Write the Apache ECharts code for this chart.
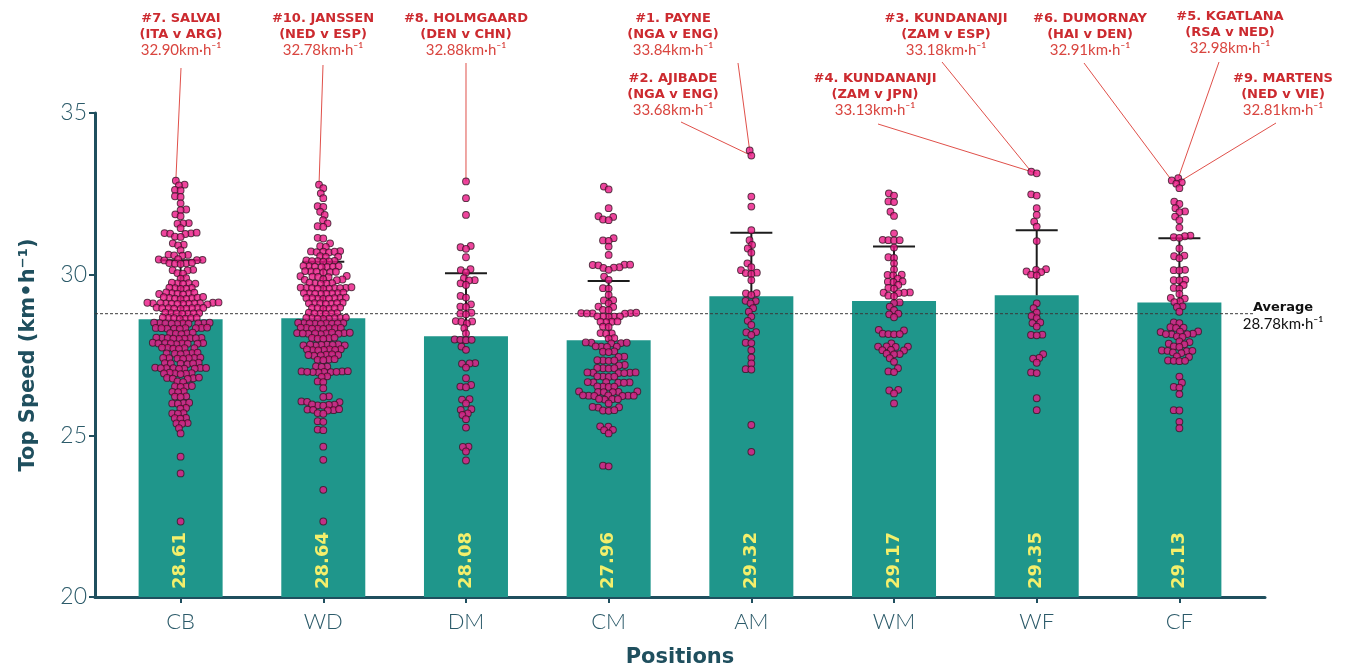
<!DOCTYPE html>
<html>
<head>
<meta charset="utf-8">
<script src="https://cdn.jsdelivr.net/npm/echarts@6/dist/echarts.min.js"></script>
<style>
  html, body { margin: 0; padding: 0; background: #ffffff; }
  #chart { width: 1349px; height: 669px; }
</style>
</head>
<body>
<div id="chart"></div>
<script>
// ---- data ----
const positions = ['CB', 'WD', 'DM', 'CM', 'AM', 'WM', 'WF', 'CF'];
const meanSpeed = [28.61, 28.64, 28.08, 27.96, 29.32, 29.17, 29.35, 29.13];
const sdSpeed = [1.83, 1.75, 1.95, 1.83, 1.97, 1.69, 2.02, 1.99];
const averageSpeed = 28.78;
const yTicks = [20, 25, 30, 35];

const speedsCB = [
  32.90, 32.78, 32.76, 32.62, 32.60, 32.42, 32.40, 32.20, 32.01, 31.99, 31.86, 31.80,
  31.59, 31.58, 31.57, 31.43, 31.28, 31.27, 31.26, 31.25, 31.29, 31.17, 31.16, 30.96,
  30.92, 30.90, 30.75, 30.61, 30.60, 30.59, 30.58, 30.46, 30.45, 30.44, 30.43, 30.47,
  30.35, 30.34, 30.33, 30.36, 30.32, 30.14, 30.13, 30.12, 30.04, 30.02, 29.88, 29.87,
  29.73, 29.72, 29.71, 29.74, 29.70, 29.58, 29.57, 29.56, 29.59, 29.55,
  29.42, 29.41, 29.40, 29.43, 29.39, 29.44, 29.38,
  29.27, 29.26, 29.25, 29.28, 29.24, 29.29, 29.23, 29.30,
  29.11, 29.10, 29.09, 29.12, 29.08, 29.13, 29.07, 29.10, 29.11, 29.09, 29.10, 29.12, 29.08,
  28.96, 28.95, 28.94, 28.97, 28.93, 28.95, 28.96, 28.94, 28.95,
  28.80, 28.79, 28.78, 28.81, 28.77, 28.80, 28.79,
  28.65, 28.64, 28.63, 28.66, 28.62, 28.64, 28.65,
  28.49, 28.48, 28.47, 28.50, 28.46, 28.48, 28.49, 28.47, 28.48, 28.50,
  28.34, 28.33, 28.32, 28.35, 28.31, 28.33, 28.34, 28.32, 28.33,
  28.18, 28.17, 28.16, 28.19, 28.15,
  28.03, 28.02, 28.01, 28.04, 28.00, 28.02, 28.03, 28.01, 28.02,
  27.87, 27.86, 27.85, 27.88, 27.84, 27.86, 27.87, 27.85, 27.86,
  27.72, 27.71, 27.70, 27.73, 27.69, 27.71,
  27.56, 27.55, 27.54, 27.57, 27.53, 27.55,
  27.41, 27.40, 27.39, 27.42, 27.38, 27.40, 27.41,
  27.25, 27.24, 27.23, 27.26, 27.22, 27.24,
  27.10, 27.09, 27.08, 27.11, 27.07, 27.09, 27.10, 27.08, 27.09,
  26.94, 26.93, 26.92, 26.95, 26.91, 26.93,
  26.79, 26.78, 26.77, 26.80, 26.76, 26.68, 26.66,
  26.53, 26.52, 26.51, 26.54, 26.37, 26.36, 26.35, 26.22, 26.21, 26.20,
  26.01, 26.00, 25.99, 26.02, 25.86, 25.84, 25.70, 25.69, 25.68,
  25.55, 25.54, 25.53, 25.39, 25.38, 25.37, 25.23, 25.07, 24.35, 23.83, 22.34
];
const speedsWD = [
  32.78, 32.67, 32.51, 32.36, 32.11, 32.09, 31.94, 31.84, 31.68, 31.58, 31.49, 31.47,
  31.13, 31.11, 30.96, 30.87, 30.85,
  30.71, 30.70, 30.69, 30.72, 30.68, 30.70, 30.56, 30.55, 30.54,
  30.42, 30.41, 30.40, 30.43, 30.39, 30.41,
  30.25, 30.24, 30.23, 30.26, 30.22, 30.24, 30.25,
  30.09, 30.08, 30.07, 30.10, 30.06, 30.08,
  29.94, 29.93, 29.92, 29.95, 29.91, 29.84, 29.83, 29.82, 29.85,
  29.73, 29.72, 29.71, 29.74, 29.70,
  29.58, 29.57, 29.56, 29.59, 29.55, 29.57, 29.58, 29.56, 29.57, 29.60,
  29.42, 29.41, 29.40, 29.43, 29.39, 29.41, 29.42, 29.40,
  29.27, 29.26, 29.25, 29.28, 29.24, 29.26, 29.27, 29.25,
  29.11, 29.10, 29.09, 29.12, 29.08, 29.10, 29.11,
  28.96, 28.95, 28.94, 28.97, 28.93, 28.95,
  28.80, 28.79, 28.78, 28.81, 28.77, 28.79,
  28.65, 28.64, 28.63, 28.66, 28.62, 28.64, 28.65, 28.63,
  28.49, 28.48, 28.47, 28.50, 28.46, 28.48, 28.49, 28.47, 28.48,
  28.34, 28.33, 28.32, 28.35, 28.31, 28.33, 28.34, 28.32,
  28.18, 28.17, 28.16, 28.19, 28.15, 28.17, 28.18, 28.16, 28.17, 28.19,
  28.03, 28.02, 28.01, 28.04, 28.00,
  27.82, 27.81, 27.80, 27.83, 27.79, 27.81, 27.82, 27.80,
  27.67, 27.66, 27.65, 27.68, 27.64, 27.66, 27.67,
  27.51, 27.50, 27.49, 27.52, 27.48, 27.50,
  27.36, 27.35, 27.34, 27.37, 27.15, 27.14, 27.13,
  26.99, 26.98, 26.97, 27.00, 26.96, 26.98, 26.99, 26.97, 26.98,
  26.84, 26.82, 26.68, 26.66, 26.47, 26.22, 26.20, 26.06, 26.05, 26.04,
  25.96, 25.95, 25.94, 25.97, 25.93, 25.81, 25.80, 25.79, 25.82, 25.78,
  25.70, 25.68, 25.45, 25.43, 25.19, 25.17, 24.66, 24.25, 23.32, 22.34
];
const speedsDM = [
  32.88, 32.36, 31.84, 30.88, 30.84, 30.79, 30.53, 30.16, 30.13, 30.06, 29.88, 29.82,
  29.81, 29.72, 29.67, 29.33, 29.28, 29.07, 29.00, 28.99, 28.81, 28.78, 28.76, 28.55,
  28.54, 28.53, 28.48, 28.33, 28.17, 27.98, 27.97, 27.96, 27.97, 27.76, 27.66, 27.25,
  27.24, 27.23, 27.11, 26.78, 26.57, 26.52, 26.50, 26.13, 26.12, 26.00, 25.82, 25.80,
  25.69, 25.64, 25.51, 25.25, 24.66, 24.65, 24.51, 24.23
];
const speedsCM = [
  32.72, 32.63, 32.05, 31.80, 31.78, 31.70, 31.68, 31.12, 31.05, 31.04, 30.86, 30.60,
  30.30, 30.29, 30.28, 30.30, 30.22, 30.21, 30.20, 30.14, 29.93, 29.83, 29.57, 29.56,
  29.36, 29.20, 29.19, 29.10, 29.00, 28.99, 28.90, 28.89,
  28.80, 28.79, 28.78, 28.80, 28.81, 28.79, 28.69, 28.70, 28.68, 28.69, 28.70,
  28.53, 28.54, 28.52, 28.53, 28.38, 28.37, 28.17, 28.18, 28.16, 28.02, 28.01,
  27.88, 27.87, 27.89, 27.88, 27.86, 27.76, 27.75, 27.77, 27.76, 27.60, 27.61, 27.59,
  27.45, 27.44, 27.33, 27.32, 27.34, 27.33, 27.19, 27.18, 27.09, 27.08, 27.10, 27.09,
  26.95, 26.94, 26.96, 26.95, 26.94, 26.96, 26.83, 26.82, 26.84, 26.83,
  26.65, 26.64, 26.66, 26.65, 26.64, 26.66, 26.52, 26.51, 26.53, 26.52,
  26.36, 26.35, 26.37, 26.36, 26.35, 26.37, 26.24, 26.23, 26.25, 26.24, 26.23, 26.25, 26.24,
  26.13, 26.12, 26.14, 26.13, 26.00, 25.88, 25.87, 25.89, 25.78, 25.77, 25.79,
  25.28, 25.29, 25.18, 25.17, 25.07, 24.07, 24.05
];
const speedsAM = [
  33.84, 33.68, 32.41, 32.10, 31.37, 31.06, 30.91, 30.80, 30.67, 30.34, 30.22, 30.13,
  30.05, 30.04, 30.01, 29.82, 29.42, 29.41, 29.36, 29.18, 29.17, 29.10, 28.95, 28.84,
  28.69, 28.56, 28.43, 28.21, 28.20, 28.12, 27.88, 27.87, 27.65, 27.42, 27.24, 27.06,
  27.05, 25.33, 24.50
];
const speedsWM = [
  32.51, 32.44, 32.26, 32.24, 31.94, 31.81, 31.27, 31.07, 31.06, 31.05, 31.06, 30.83,
  30.53, 30.51, 30.34, 30.15, 29.99, 29.98, 29.97, 29.87, 29.78, 29.77, 29.76, 29.67,
  29.58, 29.56, 29.44, 29.43, 29.42, 29.43, 29.34, 29.32, 29.13, 29.11, 29.00, 28.89,
  28.78, 28.76, 28.67, 28.28, 28.26, 28.16, 28.15, 28.14, 28.15, 27.86, 27.77, 27.76,
  27.75, 27.76, 27.66, 27.65, 27.64, 27.54, 27.53, 27.52, 27.40, 27.29, 27.09, 26.99,
  26.97, 26.42, 26.40, 26.31, 26.00
];
const speedsWF = [
  33.18, 33.13, 32.48, 32.44, 32.05, 31.84, 31.63, 31.48, 31.03, 30.16, 30.14, 30.09,
  30.07, 29.99, 29.97, 29.10, 28.95, 28.81, 28.71, 28.64, 28.51, 28.49, 28.38, 28.13,
  28.12, 28.11, 27.53, 27.41, 27.39, 27.26, 26.96, 26.94, 26.16, 25.79
];
const speedsCF = [
  32.98, 32.91, 32.85, 32.81, 32.67, 32.25, 32.18, 32.05, 31.95, 31.93, 31.79, 31.68,
  31.45, 31.20, 31.18, 31.15, 31.13, 30.80, 30.58, 30.56, 30.50, 30.14, 30.13, 30.12,
  29.83, 29.82, 29.81, 29.67, 29.58, 29.56, 29.39, 29.27, 29.25, 29.16, 29.14, 29.01,
  28.99, 28.84, 28.51, 28.49, 28.36, 28.35, 28.34, 28.23, 28.22, 28.21, 28.16, 28.15,
  28.14, 28.15, 28.08, 28.06, 27.92, 27.90, 27.85, 27.83, 27.77, 27.75, 27.64, 27.63,
  27.62, 27.63, 27.58, 27.56, 27.46, 27.44, 27.33, 27.32, 27.31, 27.32, 26.83, 26.64,
  26.51, 26.49, 26.29, 25.79, 25.78, 25.43, 25.23
];
const speedsByPosition = [speedsCB, speedsWD, speedsDM, speedsCM, speedsAM, speedsWM, speedsWF, speedsCF];

// Top ten sprints of the tournament
const topRanks = [7, 10, 8, 1, 2, 4, 3, 6, 5, 9];
const topNames = ['SALVAI', 'JANSSEN', 'HOLMGAARD', 'PAYNE', 'AJIBADE', 'KUNDANANJI', 'KUNDANANJI', 'DUMORNAY', 'KGATLANA', 'MARTENS'];
const topMatches = ['ITA v ARG', 'NED v ESP', 'DEN v CHN', 'NGA v ENG', 'NGA v ENG', 'ZAM v JPN', 'ZAM v ESP', 'HAI v DEN', 'RSA v NED', 'NED v VIE'];
const topPositions = ['CB', 'WD', 'DM', 'AM', 'AM', 'WF', 'WF', 'CF', 'CF', 'CF'];
const topSpeeds = [32.90, 32.78, 32.88, 33.84, 33.68, 33.13, 33.18, 32.91, 32.98, 32.81];

// ---- layout and styles ----
// callout block: centre x, top y, and where its leader line starts
const calloutLayout = [
  { cx: 181, top: 11, from: [181, 68] },
  { cx: 323, top: 11, from: [323, 65] },
  { cx: 466, top: 11, from: [466, 63] },
  { cx: 673, top: 11, from: [738, 63] },
  { cx: 673, top: 71, from: [681, 122] },
  { cx: 875, top: 71, from: [878, 124] },
  { cx: 946, top: 11, from: [942, 62] },
  { cx: 1090, top: 11, from: [1084, 63] },
  { cx: 1230, top: 9, from: [1219, 62] },
  { cx: 1283, top: 71, from: [1276, 123] }
];

const AXIS = '#1f4f5e';
const AXIS_TEXT = '#2b5a69';
const BAR = '#1f968b';
const DOT = '#ea1684';
const DOT_EDGE = '#3a1627';
const RED = '#cc2a2f';
const RED_LIGHT = '#d9453f';
const LINE_RED = '#e0504a';
const HEAD_FONT = 'DejaVu Sans';
const TICK_FONT = 'Lato';
const DOT_SIZE = 6.8;
const SWARM_R = 2.7;

const chart = echarts.init(document.getElementById('chart'), null, { renderer: 'canvas' });

const baseOption = {
  animation: false,
  backgroundColor: '#ffffff',
  grid: { left: 95, right: 84, top: 113, bottom: 72, containLabel: false, outerBoundsMode: 'none' },
  xAxis: {
    type: 'value',
    min: -0.6,
    max: 7.6,
    name: 'Positions',
    nameLocation: 'middle',
    nameGap: 50,
    nameTextStyle: { fontFamily: HEAD_FONT, fontWeight: 'bold', fontSize: 21, color: AXIS },
    axisLine: { show: true, onZero: false, lineStyle: { color: AXIS, width: 3 } },
    axisTick: { show: true, customValues: positions.map((_, i) => i), length: 6, lineStyle: { color: AXIS, width: 2 } },
    axisLabel: {
      show: true,
      customValues: positions.map((_, i) => i),
      formatter: v => positions[Math.round(v)] || '',
      fontFamily: TICK_FONT, fontWeight: 300, fontSize: 22, color: AXIS_TEXT, margin: 14
    },
    splitLine: { show: false }
  },
  yAxis: {
    type: 'value',
    min: yTicks[0],
    max: yTicks[yTicks.length - 1],
    interval: 5,
    name: 'Top Speed (km•h⁻¹)',
    nameLocation: 'middle',
    nameGap: 56,
    nameRotate: 90,
    nameTextStyle: { fontFamily: HEAD_FONT, fontWeight: 'bold', fontSize: 21, color: AXIS },
    axisLine: { show: true, onZero: false, lineStyle: { color: AXIS, width: 3 } },
    axisTick: { show: true, length: 6, lineStyle: { color: AXIS, width: 2 } },
    axisLabel: { fontFamily: TICK_FONT, fontWeight: 300, fontSize: 23, color: AXIS_TEXT, margin: 8 },
    splitLine: { show: false }
  },
  series: [
    {
      name: 'mean',
      type: 'bar',
      barWidth: 84,
      z: 2,
      data: meanSpeed.map((m, i) => [i, m]),
      itemStyle: { color: BAR },
      label: {
        show: true,
        position: 'insideBottom',
        rotate: 90,
        align: 'left',
        verticalAlign: 'middle',
        distance: 8,
        fontFamily: HEAD_FONT,
        fontWeight: 'bold',
        fontSize: 18,
        color: '#f4ef6b',
        formatter: p => p.value[1].toFixed(2)
      }
    },
    {
      name: 'sd',
      type: 'custom',
      z: 3,
      data: meanSpeed.map((m, i) => [i, m, m + sdSpeed[i]]),
      renderItem: (params, api) => {
        const x = api.value(0);
        const lo = api.coord([x, api.value(1)]);
        const hi = api.coord([x, api.value(2)]);
        const half = 21;
        const st = { stroke: '#1c1c1c', lineWidth: 2 };
        return {
          type: 'group',
          children: [
            { type: 'line', shape: { x1: lo[0], y1: lo[1], x2: hi[0], y2: hi[1] }, style: st },
            { type: 'line', shape: { x1: hi[0] - half, y1: hi[1], x2: hi[0] + half, y2: hi[1] }, style: st }
          ]
        };
      }
    },
    {
      name: 'average',
      type: 'line',
      z: 4,
      symbol: 'none',
      silent: true,
      data: [[-0.6, averageSpeed], [7.53, averageSpeed]],
      lineStyle: { color: '#3a3a3a', width: 1, type: [3, 2] }
    }
  ]
};

chart.setOption(baseOption);

// Beeswarm placement: points sorted by value, each set at the free
// position nearest the category centre.
function beeswarm(ys, r) {
  const order = ys.map((_, i) => i).sort((a, b) => ys[b] - ys[a]);
  const placed = [];
  const out = new Array(ys.length);
  const d2 = 4 * r * r;
  for (const i of order) {
    const y = ys[i];
    const neigh = placed.filter(p => Math.abs(p.y - y) < 2 * r);
    const cands = [0];
    let leftFirst = true;
    for (const p of neigh) {
      const dy = y - p.y;
      const dx = Math.sqrt(Math.max(d2 - dy * dy, 0)) * 1.05;
      if (leftFirst) cands.push(p.x - dx, p.x + dx); else cands.push(p.x + dx, p.x - dx);
      leftFirst = !leftFirst;
    }
    const sorted = cands.map((c, k) => [c, k]).sort((a, b) => (Math.abs(a[0]) - Math.abs(b[0])) || (a[1] - b[1]));
    let chosen = sorted[0][0];
    for (const [c] of sorted) {
      if (neigh.every(p => (p.x - c) * (p.x - c) + (p.y - y) * (p.y - y) >= d2 - 1e-6)) { chosen = c; break; }
    }
    placed.push({ x: chosen, y });
    out[i] = chosen;
  }
  return out;
}

const pxPerUnit = chart.convertToPixel({ xAxisIndex: 0 }, 1) - chart.convertToPixel({ xAxisIndex: 0 }, 0);
const swarmData = [];
const swarmXY = positions.map(() => []);
speedsByPosition.forEach((vals, ci) => {
  const ys = vals.map(v => chart.convertToPixel({ yAxisIndex: 0 }, v));
  const offs = beeswarm(ys, SWARM_R);
  vals.forEach((v, k) => {
    const x = ci + offs[k] / pxPerUnit;
    swarmData.push([x, v]);
    swarmXY[ci].push({ v, x });
  });
});

// callout graphics
const graphics = [];
topSpeeds.forEach((s, i) => {
  const ci = positions.indexOf(topPositions[i]);
  const pt = swarmXY[ci].find(p => Math.abs(p.v - s) < 1e-9);
  const end = chart.convertToPixel({ gridIndex: 0 }, [pt.x, pt.v]);
  const lay = calloutLayout[i];
  graphics.push({
    type: 'line',
    z: 1,
    silent: true,
    shape: { x1: lay.from[0], y1: lay.from[1], x2: end[0], y2: end[1] },
    style: { stroke: LINE_RED, lineWidth: 1 }
  });
  graphics.push({
    type: 'text',
    z: 10,
    x: lay.cx,
    y: lay.top,
    style: {
      text: '{n|#' + topRanks[i] + '. ' + topNames[i] + '}\n{n|(' + topMatches[i] + ')}\n{v|' + s.toFixed(2) + 'km·h⁻¹}',
      align: 'center',
      verticalAlign: 'top',
      rich: {
        n: { fontFamily: HEAD_FONT, fontWeight: 'bold', fontSize: 13, fill: RED, lineHeight: 15.5, align: 'center' },
        v: { fontFamily: TICK_FONT, fontSize: 15, fill: RED_LIGHT, lineHeight: 15.5, align: 'center' }
      }
    }
  });
});

// average label at the right end of the dashed line
const avgY = chart.convertToPixel({ yAxisIndex: 0 }, averageSpeed);
graphics.push({
  type: 'text', z: 10, x: 1283, y: avgY + 2,
  style: {
    text: '{a|Average}\n{b|' + averageSpeed.toFixed(2) + 'km·h⁻¹}',
    align: 'center', verticalAlign: 'middle',
    rich: {
      a: { fontFamily: HEAD_FONT, fontWeight: 'bold', fontSize: 13, fill: '#111111', lineHeight: 16, align: 'center' },
      b: { fontFamily: TICK_FONT, fontSize: 15, fill: '#111111', lineHeight: 16, align: 'center' }
    }
  }
});

chart.setOption({
  series: [
    {}, {}, {},
    {
      name: 'players',
      type: 'scatter',
      z: 5,
      symbol: 'circle',
      symbolSize: DOT_SIZE,
      data: swarmData,
      itemStyle: { color: DOT, borderColor: DOT_EDGE, borderWidth: 1 }
    }
  ],
  graphic: graphics
});
</script>
</body>
</html>
